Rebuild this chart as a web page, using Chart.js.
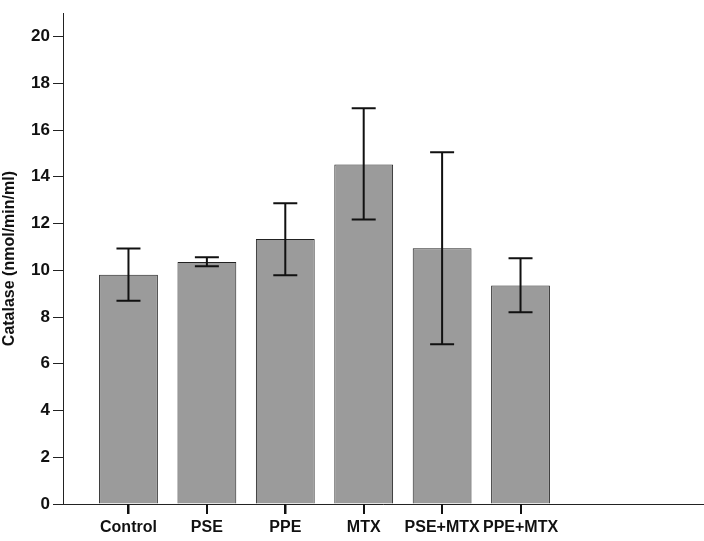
<!DOCTYPE html>
<html>
<head>
<meta charset="utf-8">
<script src="https://cdn.jsdelivr.net/npm/chart.js@4"></script>
<style>
    body { margin: 0; background: #fff; }
    #wrap { width: 704px; height: 541px; }
</style>
</head>
<body>
<div id="wrap"><canvas id="catalaseChart"></canvas></div>
<script>
'use strict';

const categories = ['Control', 'PSE', 'PPE', 'MTX', 'PSE+MTX', 'PPE+MTX'];
const catalaseMean = [9.81, 10.35, 11.34, 14.53, 10.94, 9.35];
const errorHigh = [10.93, 10.56, 12.87, 16.93, 15.05, 10.51];
const errorLow = [8.70, 10.17, 9.79, 12.17, 6.83, 8.20];
const yTicks = [0, 2, 4, 6, 8, 10, 12, 14, 16, 18, 20];

const fontFamily = '"Liberation Sans", Arial, sans-serif';

// error bars on top of the bars
const errorBarPlugin = {
    id: 'errorBars',
    afterDatasetsDraw(chart) {
        const ctx = chart.ctx;
        const xScale = chart.scales.x;
        const yScale = chart.scales.y;
        ctx.save();
        ctx.strokeStyle = '#111';
        ctx.lineWidth = 2;
        categories.forEach((c, i) => {
            const x = xScale.getPixelForValue(i);
            const yHi = yScale.getPixelForValue(errorHigh[i]);
            const yLo = yScale.getPixelForValue(errorLow[i]);
            ctx.beginPath();
            ctx.moveTo(x, yHi);
            ctx.lineTo(x, yLo);
            ctx.moveTo(x - 12, yHi);
            ctx.lineTo(x + 12, yHi);
            ctx.moveTo(x - 12, yLo);
            ctx.lineTo(x + 12, yLo);
            ctx.stroke();
        });
        ctx.restore();
    }
};

// category tick marks under the x axis
const xTickPlugin = {
    id: 'xTickMarks',
    afterDraw(chart) {
        const ctx = chart.ctx;
        const xScale = chart.scales.x;
        const bottom = chart.chartArea.bottom;
        ctx.save();
        ctx.strokeStyle = '#111';
        ctx.lineWidth = 2;
        categories.forEach((c, i) => {
            const x = Math.round(xScale.getPixelForValue(i));
            ctx.beginPath();
            ctx.moveTo(x, bottom);
            ctx.lineTo(x, bottom + 10);
            ctx.stroke();
        });
        ctx.restore();
    }
};

let barData = categories.map((c, i) => ({ x: i, y: catalaseMean[i] }));

let config = {
    type: 'bar',
    data: {
        datasets: [{
            data: barData,
            backgroundColor: '#9b9b9b',
            borderColor: '#222',
            borderWidth: 1,
            barPercentage: 0.75,
            categoryPercentage: 1,
        }]
    },
    options: {
        responsive: true,
        maintainAspectRatio: false,
        animation: false,
        layout: { padding: { top: 7, right: 0, left: 0, bottom: 0 } },
        plugins: {
            legend: { display: false },
            tooltip: { enabled: false },
        },
        scales: {
            x: {
                type: 'linear',
                offset: false,
                min: -0.835,
                max: 7.34,
                afterBuildTicks: (scale) => {
                    scale.ticks = categories.map((c, i) => ({ value: i }));
                },
                afterFit: (scale) => { scale.height = 37; },
                ticks: {
                    autoSkip: false,
                    maxRotation: 0,
                    padding: 4,
                    color: '#111',
                    font: { family: fontFamily, size: 16, weight: 'bold' },
                    callback: (value) => categories[value],
                },
                grid: { offset: false, drawOnChartArea: false, tickLength: 10, color: '#111', lineWidth: 1.5 },
                border: { display: true, color: '#222', width: 1 },
            },
            y: {
                min: 0,
                max: 21,
                afterBuildTicks: (scale) => {
                    scale.ticks = yTicks.map(v => ({ value: v }));
                },
                afterFit: (scale) => { scale.width = 63; },
                ticks: {
                    padding: 3,
                    color: '#111',
                    font: { family: fontFamily, size: 17, weight: 'bold' },
                },
                grid: { drawOnChartArea: false, tickLength: 10, color: '#222', lineWidth: 1 },
                border: { display: true, color: '#222', width: 1 },
                title: {
                    display: true,
                    text: 'Catalase (nmol/min/ml)',
                    color: '#111',
                    padding: { top: 0, bottom: 0 },
                    font: { family: fontFamily, size: 16, weight: 'bold' },
                },
            }
        }
    },
    plugins: [errorBarPlugin, xTickPlugin]
};

let chart = new Chart(document.getElementById('catalaseChart'), config);
</script>
</body>
</html>
